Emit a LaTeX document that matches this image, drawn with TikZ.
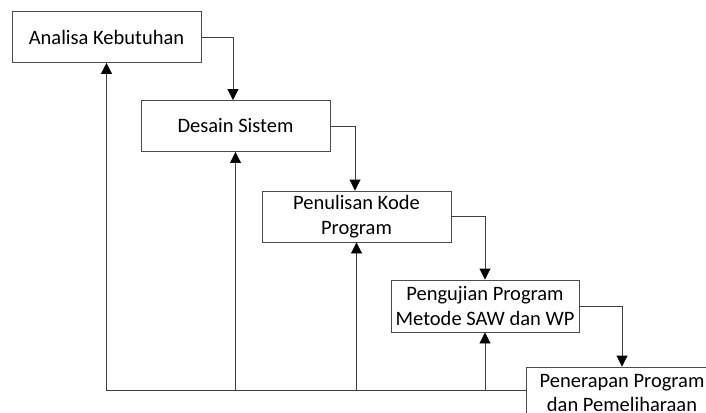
\documentclass[tikz,border=0pt]{standalone}
\usepackage{fontspec}
\setmainfont{Carlito}
\usetikzlibrary{arrows.meta}
\tikzset{
  phase/.style={draw=black!70, line width=0.9pt, fill=white, rectangle,
    minimum width=189pt, minimum height=51pt, inner sep=0pt,
    align=center, font=\fontsize{20.5}{24.5}\selectfont},
  flow/.style={draw=black!75, line width=0.9pt,
    -{Triangle[length=11pt,width=11pt,fill=black,color=black]}},
  link/.style={draw=black!75, line width=0.9pt}
}
\begin{document}
\begin{tikzpicture}[x=1pt,y=-1pt]
  \useasboundingbox (0,0) rectangle (706,412);
  \clip (0,0) rectangle (706,412);

  % waterfall stages
  \node[phase] (b1) at (106.5,37)  {Analisa Kebutuhan};
  \node[phase] (b2) at (235.5,126) {Desain Sistem};
  \node[phase] (b3) at (356.5,216.5) {Penulisan Kode\\Program};
  \node[phase, minimum width=188pt, minimum height=52pt] (b4) at (485,306) {Pengujian Program\\Metode SAW dan WP};
  \node[phase, minimum width=192pt, minimum height=52pt] (b5) at (622,393) {Penerapan Program\\dan Pemeliharaan};

  % forward flow between stages
  \coordinate (t1) at (233,0);
  \coordinate (t2) at (355,0);
  \coordinate (t3) at (485,0);
  \coordinate (t4) at (622,0);
  \draw[flow] (b1.east) -| (t1 |- b2.north);
  \draw[flow] (b2.east) -| (t2 |- b3.north);
  \draw[flow] (b3.east) -| (t3 |- b4.north);
  \draw[flow] (b4.east) -| (t4 |- b5.north);

  % feedback line along the bottom
  \coordinate (fb) at (0,390.5);
  \draw[link] (b1.south |- fb) -- (b5.west |- fb);
  \draw[flow] (b1.south |- fb) -- (b1.south);
  \draw[flow] (b2.south |- fb) -- (b2.south);
  \draw[flow] (b3.south |- fb) -- (b3.south);
  \draw[flow] (b4.south |- fb) -- (b4.south);
\end{tikzpicture}
\end{document}
